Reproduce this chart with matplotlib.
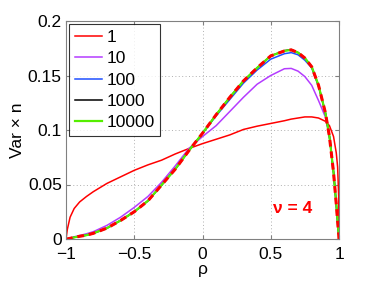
import numpy as np
import matplotlib
matplotlib.use('Agg')
import matplotlib.pyplot as plt

plt.rc('font', family=['Liberation Sans', 'DejaVu Sans'])

#-------------------------------------------------------------------------------
#DATA

rho = [-1, -0.99, -0.97, -0.94, -0.9, -0.85, -0.8, -0.7, -0.6, -0.5, -0.4,
       -0.3, -0.2, -0.1, 0, 0.1, 0.2, 0.3, 0.4, 0.5, 0.6, 0.65, 0.7, 0.75,
       0.8, 0.85, 0.9, 0.93, 0.96, 0.98, 0.99, 0.998, 1]

var_n1 = [0, 0.009, 0.020, 0.028, 0.034, 0.039, 0.0434, 0.051, 0.057, 0.063,
          0.068, 0.0723, 0.078, 0.083, 0.0875, 0.0915, 0.0955, 0.1005, 0.1035,
          0.106, 0.1085, 0.110, 0.111, 0.112, 0.112, 0.111, 0.108, 0.104,
          0.094, 0.079, 0.066, 0.038, 0]

var_n10 = [0, 0.0002, 0.0008, 0.002, 0.0032, 0.0048, 0.0067, 0.0125, 0.020,
           0.029, 0.039, 0.052, 0.067, 0.083, 0.094, 0.104, 0.117, 0.130,
           0.142, 0.150, 0.1562, 0.1565, 0.154, 0.149, 0.141, 0.127, 0.112,
           0.094, 0.062, 0.032, 0.016, 0.004, 0]

var_n100 = [0, 0.0001, 0.0006, 0.0015, 0.0025, 0.0035, 0.0052, 0.010, 0.017,
            0.025, 0.035, 0.0495, 0.064, 0.081, 0.097, 0.113, 0.128, 0.143,
            0.155, 0.165, 0.1700, 0.171, 0.169, 0.164, 0.157, 0.140, 0.116,
            0.094, 0.061, 0.032, 0.016, 0.004, 0]

var_n1000 = [0, 0.0001, 0.0006, 0.0015, 0.0025, 0.0035, 0.0052, 0.010, 0.017,
             0.025, 0.035, 0.0495, 0.064, 0.081, 0.097, 0.114, 0.130, 0.145,
             0.157, 0.168, 0.1728, 0.1738, 0.171, 0.166, 0.158, 0.141, 0.116,
             0.094, 0.061, 0.032, 0.016, 0.004, 0]

var_n10000 = [0, 0.0001, 0.0006, 0.0015, 0.0025, 0.0035, 0.0052, 0.010, 0.017,
              0.025, 0.035, 0.0495, 0.064, 0.081, 0.097, 0.114, 0.130, 0.145,
              0.157, 0.168, 0.1725, 0.1735, 0.171, 0.166, 0.158, 0.141, 0.116,
              0.094, 0.061, 0.032, 0.016, 0.004, 0]

#asymptotic curve (red dashed)
var_limit = var_n10000

labels = ['1', '10', '100', '1000', '10000']
colors = ['#ff0000', '#b43cff', '#1f4fff', '#000000', '#55ee00']

#-------------------------------------------------------------------------------
#PLOT

fig = plt.figure(figsize=(3.74, 2.81), dpi=100)
ax = fig.add_axes([66/374, 1 - 239/281, 273/374, 218/281])

series = [var_n1, var_n10, var_n100, var_n1000, var_n10000]
widths = [1.1, 1.1, 1.1, 1.1, 1.6]
for vals, lab, col, lw in zip(series, labels, colors, widths):
    ax.plot(rho, vals, color=col, lw=lw, label=lab)
ax.plot(rho, var_limit, color='#ff0000', lw=2.2, ls=(0, (2.2, 1.6)))

ax.set_xlim(-1, 1)
ax.set_ylim(0, 0.2)
ax.set_xticks([-1, -0.5, 0, 0.5, 1])
ax.set_xticklabels(['\u22121', '\u22120.5', '0', '0.5', '1'])
ax.set_yticks([0, 0.05, 0.1, 0.15, 0.2])
ax.set_yticklabels(['0', '0.05', '0.1', '0.15', '0.2'])
ax.tick_params(direction='in', length=3, labelsize=12.5, top=True, right=True,
               color='#808080', pad=3)
ax.tick_params(axis='x', pad=6)
for s in ax.spines.values():
    s.set_color('#808080')
ax.grid(True, ls=(0, (1, 2.5)), color='#b0b0b0', lw=0.7)

ax.set_xlabel('\u03c1', fontsize=12.5, labelpad=0)
ax.set_ylabel('Var \u00d7 n', fontsize=12.5, labelpad=2)
ax.text(0.515, 0.0284, '\u03bd = 4', color='#ff0000', fontsize=12.5,
        fontweight='bold', va='center')

leg = ax.legend(loc='upper left', fontsize=12.5, frameon=True, fancybox=False,
                edgecolor='black', handlelength=1.6, handletextpad=0.25,
                labelspacing=0.36, borderpad=0.3, borderaxespad=0.2)
leg.get_frame().set_linewidth(0.8)

fig.savefig('out.png', dpi=100)
